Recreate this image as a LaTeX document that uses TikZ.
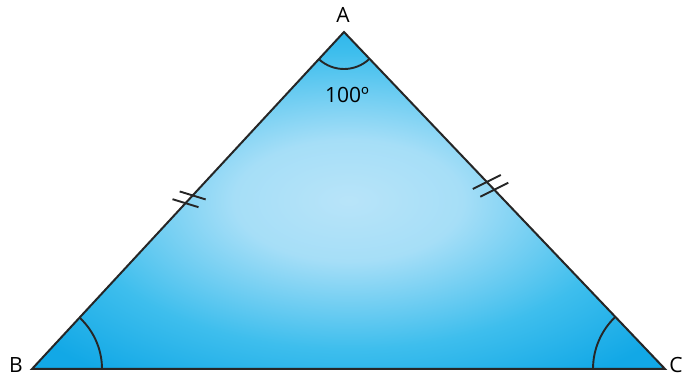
\documentclass[tikz,border=0pt]{standalone}
\usepackage{fontspec}
\setmainfont{Open Sans}
\usetikzlibrary{calc,angles}
\definecolor{skylight}{RGB}{184,228,249}
\definecolor{skymid}{RGB}{62,190,237}
\definecolor{skydeep}{RGB}{18,168,230}
\pgfdeclareradialshading{skyglow}{\pgfpoint{0bp}{0bp}}{%
  color(0bp)=(skylight); color(9bp)=(skylight!85!skymid);
  color(22bp)=(skymid); color(32bp)=(skydeep); color(50bp)=(skydeep)}
\begin{document}
\begin{tikzpicture}[x=1pt, y=1pt,
    side/.style={draw=black!85, line width=2pt, line join=miter},
    anglearc/.style={draw=black!85, line width=1.9pt},
    tick/.style={draw=black!85, line width=1.9pt},
    vertex/.style={font=\fontsize{21}{24}\selectfont, inner sep=0pt, anchor=base}
]
  \useasboundingbox (0,0) rectangle (685,379);
  % corners
  \coordinate (A) at (344,347);
  \coordinate (B) at (32,10);
  \coordinate (C) at (665,10);
  \shade[shading=skyglow] (A) -- (B) -- (C) -- cycle;
  \draw[side] (A) -- (B) -- (C) -- cycle;
  % angle marks
  \pic[anglearc, angle radius=37pt] {angle = B--A--C};
  \pic[anglearc, angle radius=70pt] {angle = C--B--A};
  \pic[anglearc, angle radius=72pt] {angle = A--C--B};
  % equal sides
  \coordinate (ab1) at ($(B)!0.492!(A)$);
  \coordinate (ab2) at ($(B)!0.515!(A)$);
  \coordinate (ac1) at ($(C)!0.532!(A)$);
  \coordinate (ac2) at ($(C)!0.555!(A)$);
  \foreach \p in {ab1,ab2} \draw[tick] ($(\p)+(-13,4)$) -- ($(\p)+(13,-4)$);
  \foreach \p in {ac1,ac2} \draw[tick] ($(\p)+(-14,-7)$) -- ($(\p)+(14,7)$);
  % labels
  \node[vertex] (la) at (343,356) {A};
  \node[vertex] (lb) at (16,6) {B};
  \node[vertex] (lc) at (676,6) {C};
  \node[vertex] (deg) at (347,276) {100º};
\end{tikzpicture}
\end{document}
